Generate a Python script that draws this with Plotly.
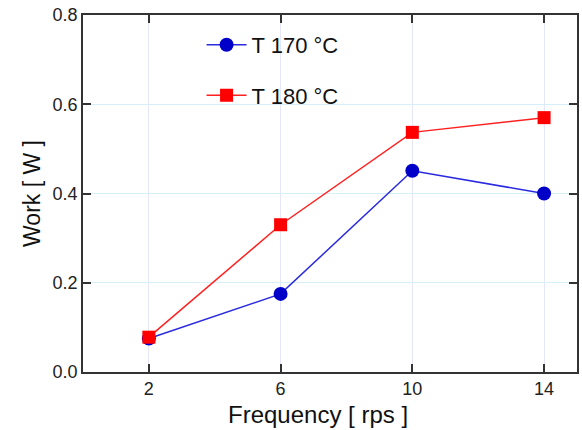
import plotly.graph_objects as go

freq = [2, 6, 10, 14]
t170 = [0.075, 0.175, 0.451, 0.400]
t180 = [0.078, 0.330, 0.537, 0.570]
series_names = ["T 170 °C", "T 180 °C"]
x_ticks = [2, 6, 10, 14]
y_ticks = [0.0, 0.2, 0.4, 0.6, 0.8]
y_tick_labels = ["0.0", "0.2", "0.4", "0.6", "0.8"]

fig = go.Figure()
fig.add_trace(go.Scatter(
    x=freq, y=t170, name=series_names[0], mode="lines+markers",
    line=dict(color="#2a2ae0", width=1.5),
    marker=dict(symbol="circle", size=14, color="#0000c8"),
    legendgroup="a",
))
fig.add_trace(go.Scatter(
    x=freq, y=t180, name=series_names[1], mode="lines+markers",
    line=dict(color="#ff2020", width=1.5),
    marker=dict(symbol="square", size=13, color="#ff0000"),
    legendgroup="b",
))

axis_common = dict(
    showline=True, linecolor="#333333", linewidth=1.5, mirror="ticks",
    ticks="inside", ticklen=8, tickcolor="#333333", tickwidth=1.5,
    tickfont=dict(family="Liberation Sans, Arial", size=18, color="#222222"),
    zeroline=False,
)

fig.update_xaxes(
    range=[0, 15], tickvals=x_ticks, ticktext=[str(v) for v in x_ticks],
    showgrid=True, gridcolor="#e6e6fa", gridwidth=1,
    **axis_common,
)
fig.update_yaxes(
    range=[0, 0.8], tickvals=y_ticks, ticktext=y_tick_labels,
    showgrid=True, gridcolor="#d6f0fb", gridwidth=1,
    title=dict(text="Work [ W ]", font=dict(family="Liberation Sans, Arial", size=23, color="#111111"), standoff=6),
    **axis_common,
)

fig.add_annotation(
    text="Frequency [ rps ]", xref="paper", yref="paper",
    x=0.476, y=-0.12, xanchor="center", yanchor="middle", showarrow=False,
    font=dict(family="Liberation Sans, Arial", size=24, color="#111111"),
)

fig.update_layout(
    width=582, height=430,
    margin=dict(l=83, r=3, t=15, b=58),
    paper_bgcolor="white", plot_bgcolor="white",
    showlegend=True,
    legend=dict(
        x=0.24, y=0.975, xanchor="left", yanchor="top",
        bgcolor="rgba(0,0,0,0)",
        font=dict(family="Liberation Sans, Arial", size=22, color="#111111"),
        tracegroupgap=19, itemwidth=40,
    ),
)

fig.write_html("out.html")
